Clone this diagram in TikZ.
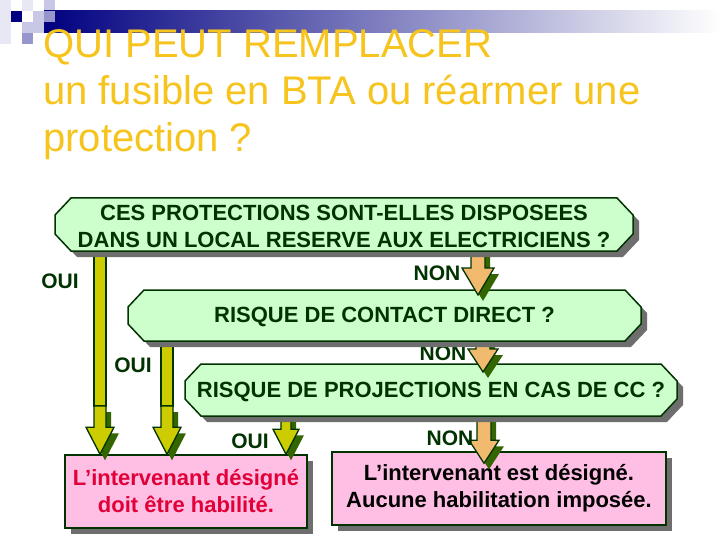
\documentclass[tikz,border=0pt]{standalone}
\usepackage{fontspec}
\setmainfont{Liberation Sans}
\usetikzlibrary{shadows,calc}
\pgfdeclarelayer{Lone}
\pgfdeclarelayer{Ltwo}
\pgfdeclarelayer{Lthree}
\pgfdeclarelayer{Lfour}
\pgfdeclarelayer{Lfive}
\pgfdeclarelayer{Lsix}
\pgfsetlayers{Lone,Ltwo,Lthree,Lfour,Lfive,Lsix,main}
\definecolor{navy}{RGB}{0,0,128}
\definecolor{sqA}{RGB}{232,232,244}
\definecolor{sqB}{RGB}{200,200,230}
\definecolor{sqC}{RGB}{150,150,204}
\definecolor{barmid}{RGB}{150,150,188}
\definecolor{gold}{RGB}{246,196,28}
\definecolor{dkgreen}{RGB}{0,51,0}
\definecolor{lgreen}{RGB}{204,255,204}
\definecolor{shgray}{RGB}{110,110,110}
\definecolor{shgreen}{RGB}{51,102,0}
\definecolor{yarrow}{RGB}{204,204,0}
\definecolor{oarrow}{RGB}{242,186,110}
\definecolor{pinkf}{RGB}{255,190,228}
\definecolor{redtxt}{RGB}{225,0,55}
\tikzset{
  qframe/.style={rectangle, inner sep=0pt, outer sep=0pt},
  octo/.style={draw=dkgreen, line width=1.5pt, fill=lgreen, line join=miter,
    drop shadow={shadow xshift=6pt, shadow yshift=-6pt, fill=shgray, opacity=1, draw=none}},
  qtext/.style={text=dkgreen, align=center, inner sep=0pt,
    font=\bfseries\fontsize{22}{27}\selectfont},
  pbox/.style={rectangle, draw=dkgreen, line width=1.5pt, fill=pinkf, align=center,
    inner sep=0pt, font=\bfseries\fontsize{22}{27}\selectfont,
    drop shadow={shadow xshift=6pt, shadow yshift=-6pt, fill=shgray, opacity=1, draw=none}},
  lab/.style={text=dkgreen, font=\bfseries\fontsize{21}{25}\selectfont, inner sep=0pt},
  ttl/.style={text=gold, font=\fontsize{40}{47}\selectfont, anchor=base west, inner sep=0pt},
  arr/.style={draw=dkgreen, line width=1.3pt, line join=miter,
    drop shadow={shadow xshift=5pt, shadow yshift=-6pt, fill=shgreen, opacity=1, draw=none}},
  shaftline/.style={draw=dkgreen, line width=1.3pt, fill=yarrow},
}
\newcommand{\octoframe}[1]{%
  \path[octo] ([xshift=16pt]#1.north west) -- ([xshift=-16pt]#1.north east) --
    ([yshift=-17pt]#1.north east) -- ([yshift=17pt]#1.south east) --
    ([xshift=-16pt]#1.south east) -- ([xshift=16pt]#1.south west) --
    ([yshift=17pt]#1.south west) -- ([yshift=-17pt]#1.north west) -- cycle;}
\newcommand{\blockarr}[6]{%
  \path[arr, fill=#6] let \p1=(#1), \p2=(#2) in
    (\x1-#4,\y1) -- (\x1+#4,\y1) -- (\x1+#4,\y2+#3) -- (\x1+#5,\y2+#3) --
    (\x2,\y2) -- (\x1-#5,\y2+#3) -- (\x1-#4,\y2+#3) -- cycle;}
\begin{document}
\begin{tikzpicture}[x=1pt,y=-1pt]
\useasboundingbox (0,0) rectangle (720,540);
\begin{pgfonlayer}{Lone}
\fill[white] (0,0) rectangle (720,540);
\end{pgfonlayer}
% header decoration
\fill[sqA] (0,0) rectangle (11,44);
\fill[sqA] (22,0) rectangle (33,11);
\fill[navy] (11,11) rectangle (22,22);
\fill[sqB] (33,11) rectangle (44,22);
\fill[sqB] (44,0) rectangle (55,11);
\fill[sqB] (22,22) rectangle (44,33);
\fill[sqC] (22,33) rectangle (33,44);
\shade[left color=navy, middle color=barmid, right color=white] (44,11) rectangle (720,33);
\fill[sqC] (44,11) rectangle (55,22);
% title
\node[ttl] (t1) at (43,58) {QUI PEUT REMPLACER};
\node[ttl] (t2) at (43,105) {un fusible en BTA ou réarmer une};
\node[ttl] (t3) at (43,152) {protection ?};
% helper coordinates
\coordinate (ax1) at (100,406);
\coordinate (ax2) at (167,406);
\coordinate (ax3) at (286,0);
\coordinate (nx1) at (478,0);
\coordinate (nx2) at (483,0);
\coordinate (nx3) at (484,0);
% result boxes
\begin{pgfonlayer}{Lone}
\node[pbox, text=redtxt, minimum width=242pt, minimum height=73pt] (pl) at (186,491.5)
  {L’intervenant désigné\\doit être habilité.};
\node[pbox, text=black, minimum width=334pt, minimum height=73pt] (pr) at (499,488.5)
  {L’intervenant est désigné.\\Aucune habilitation imposée.};
\end{pgfonlayer}
% question boxes
\begin{pgfonlayer}{Lthree}
\node[qframe, minimum width=492pt, minimum height=52pt] (b3) at (431,390) {};
\octoframe{b3}
\node[qtext] (b3t) at ($(b3.center)+(0,1.5)$) {RISQUE DE PROJECTIONS EN CAS DE CC ?};
\end{pgfonlayer}
\begin{pgfonlayer}{Lfive}
\node[qframe, minimum width=513pt, minimum height=51pt] (b2) at (384.5,315.5) {};
\octoframe{b2}
\node[qtext] (b2t) at ($(b2.center)+(0,1.5)$) {RISQUE DE CONTACT DIRECT ?};
\end{pgfonlayer}
\node[qframe, minimum width=578pt, minimum height=53pt] (b1) at (344,224.5) {};
\octoframe{b1}
\node[qtext] (b1t) at ($(b1.center)+(0,2)$)
  {CES PROTECTIONS SONT-ELLES DISPOSEES\\DANS UN LOCAL RESERVE AUX ELECTRICIENS ?};
% arrows from box 3
\begin{pgfonlayer}{Ltwo}
\blockarr{b3.south -| ax3}{pl.north -| ax3}{25pt}{5pt}{13pt}{yarrow}
\blockarr{b3.south -| nx3}{$(pr.north -| nx3)+(0,12)$}{23pt}{7pt}{15pt}{oarrow}
\node[lab] (l5) at (250,441) {OUI};
\node[lab] (l6) at (450,438) {NON};
\end{pgfonlayer}
% arrows from box 2
\begin{pgfonlayer}{Lfour}
\path[shaftline] let \p1=(b2.south -| ax2), \p2=(ax2) in (\x1-6pt,\y1) rectangle (\x2+6pt,\y2);
\blockarr{ax2}{pl.north -| ax2}{27pt}{6pt}{14pt}{yarrow}
\blockarr{b2.south -| nx2}{$(b3.north -| nx2)+(0,8)$}{23pt}{7pt}{15pt}{oarrow}
\node[lab] (l3) at (133,365) {OUI};
\node[lab] (l4) at (443,353) {NON};
\end{pgfonlayer}
% arrows from box 1
\begin{pgfonlayer}{Lsix}
\path[shaftline] let \p1=(b1.south -| ax1), \p2=(ax1) in (\x1-6pt,\y1) rectangle (\x2+6pt,\y2);
\blockarr{ax1}{pl.north -| ax1}{27pt}{6pt}{14pt}{yarrow}
\blockarr{b1.south -| nx1}{$(b2.north -| nx1)+(0,5)$}{27pt}{7pt}{16pt}{oarrow}
\node[lab] (l1) at (60,281) {OUI};
\node[lab] (l2) at (437,273) {NON};
\end{pgfonlayer}
\end{tikzpicture}
\end{document}
